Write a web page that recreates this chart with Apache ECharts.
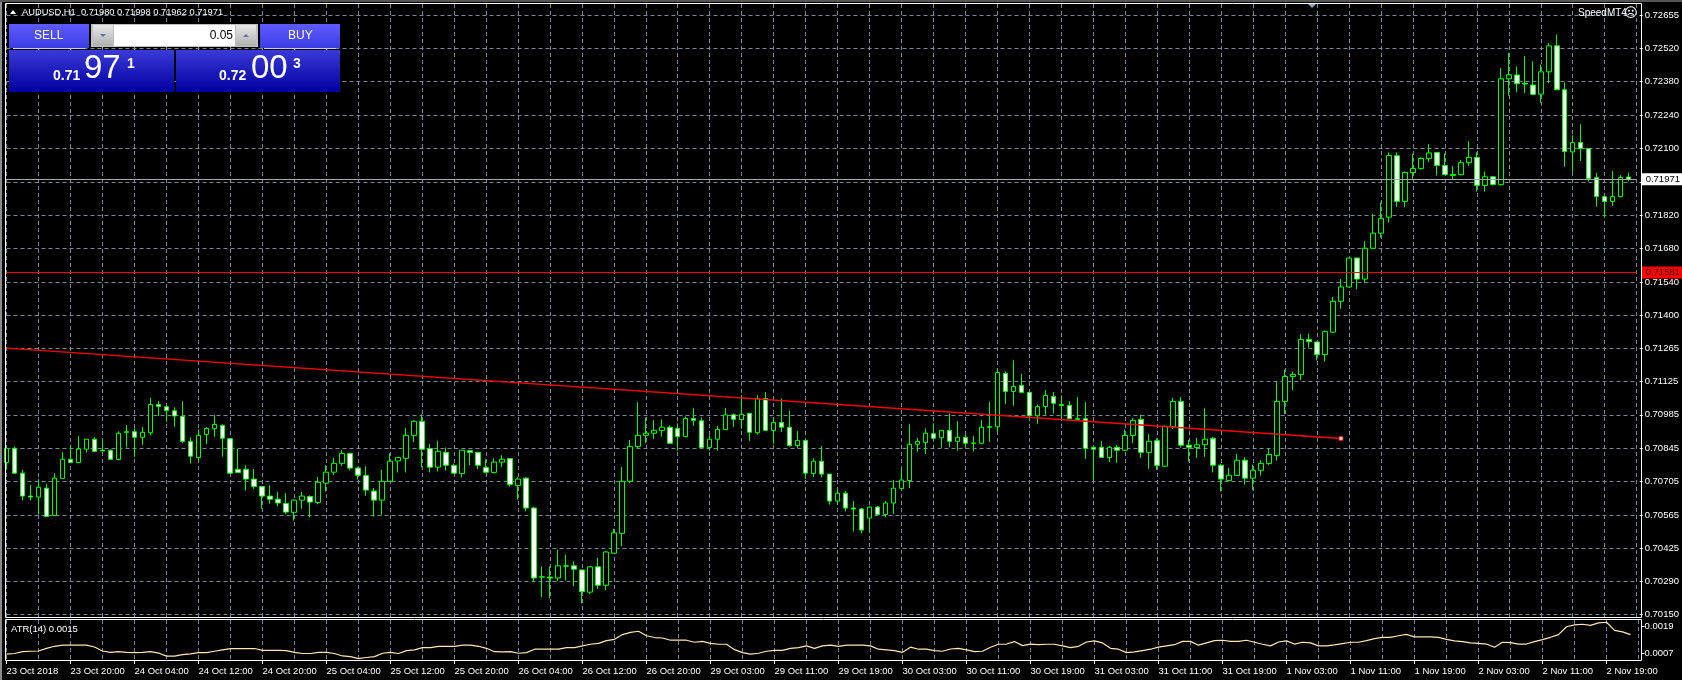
<!DOCTYPE html>
<html>
<head>
<meta charset="utf-8">
<title>AUDUSD,H1</title>
<script src="https://cdn.jsdelivr.net/npm/echarts@6/dist/echarts.min.js"></script>
<style>
  html, body { margin: 0; padding: 0; background: #000; }
  #chart { width: 1682px; height: 680px; }
</style>
</head>
<body>
<div id="chart"></div>
<script>
// H1 bars, 23 Oct 2018 12:00 to 2 Nov 2018 22:00
const opens = [
  0.70785,0.70845,0.70741,0.70645,0.70641,0.70678,0.70564,0.70719,0.70799,0.70785,
  0.70841,0.70883,0.70837,0.70837,0.70798,0.70914,0.70914,0.70891,0.70910,0.71028,
  0.71019,0.71002,0.70978,0.70873,0.70806,0.70903,0.70927,0.70941,0.70885,0.70757,
  0.70757,0.70716,0.70685,0.70645,0.70632,0.70614,0.70577,0.70628,0.70643,0.70618,
  0.70699,0.70745,0.70782,0.70823,0.70762,0.70731,0.70666,0.70628,0.70707,0.70792,
  0.70803,0.70899,0.70958,0.70844,0.70766,0.70828,0.70773,0.70739,0.70835,0.70828,
  0.70764,0.70744,0.70787,0.70802,0.70689,0.70720,0.70595,0.70307,0.70306,0.70302,
  0.70353,0.70353,0.70336,0.70243,0.70349,0.70272,0.70406,0.70489,0.70707,0.70852,
  0.70899,0.70908,0.70920,0.70933,0.70928,0.70894,0.70970,0.70960,0.70848,0.70883,
  0.70923,0.70985,0.70965,0.70991,0.70910,0.71053,0.70920,0.70953,0.70933,0.70856,
  0.70878,0.70739,0.70791,0.70737,0.70624,0.70657,0.70595,0.70591,0.70553,0.70599,
  0.70568,0.70616,0.70677,0.70710,0.70862,0.70870,0.70906,0.70889,0.70920,0.70874,
  0.70891,0.70867,0.70866,0.70935,0.70935,0.71158,0.71083,0.71108,0.71079,0.70981,
  0.71020,0.71062,0.71028,0.71024,0.70969,0.70969,0.70849,0.70849,0.70806,0.70849,
  0.70837,0.70899,0.70966,0.70828,0.70877,0.70770,0.70935,0.71041,0.70858,0.70848,
  0.70860,0.70887,0.70774,0.70710,0.70731,0.70795,0.70720,0.70753,0.70781,0.70814,
  0.71041,0.71145,0.71154,0.71300,0.71290,0.71237,0.71331,0.71460,0.71520,0.71641,
  0.71553,0.71682,0.71745,0.71812,0.72069,0.71878,0.71999,0.72015,0.72058,0.72083,
  0.72028,0.71991,0.71990,0.72040,0.72062,0.71945,0.71981,0.71948,0.72391,0.72407,
  0.72372,0.72365,0.72327,0.72420,0.72529,0.72345,0.72085,0.72124,0.72099,0.71977,
  0.71898,0.71878,0.71898,0.71980
];
const closes = [
  0.70845,0.70741,0.70645,0.70641,0.70682,0.70560,0.70720,0.70799,0.70785,0.70842,
  0.70883,0.70832,0.70834,0.70799,0.70908,0.70912,0.70891,0.70912,0.71028,0.71020,
  0.71003,0.70980,0.70873,0.70812,0.70899,0.70928,0.70945,0.70887,0.70741,0.70744,
  0.70716,0.70685,0.70645,0.70632,0.70616,0.70578,0.70628,0.70645,0.70620,0.70703,
  0.70745,0.70782,0.70823,0.70762,0.70732,0.70670,0.70628,0.70707,0.70791,0.70806,
  0.70899,0.70958,0.70841,0.70766,0.70832,0.70774,0.70741,0.70837,0.70828,0.70774,
  0.70745,0.70787,0.70799,0.70693,0.70716,0.70595,0.70302,0.70306,0.70302,0.70353,
  0.70352,0.70339,0.70245,0.70349,0.70272,0.70411,0.70491,0.70707,0.70853,0.70899,
  0.70908,0.70920,0.70933,0.70866,0.70894,0.70970,0.70962,0.70848,0.70883,0.70924,
  0.70985,0.70966,0.70987,0.70912,0.71053,0.70920,0.70953,0.70933,0.70856,0.70878,
  0.70741,0.70791,0.70737,0.70624,0.70657,0.70595,0.70591,0.70503,0.70599,0.70568,
  0.70616,0.70678,0.70712,0.70862,0.70874,0.70908,0.70887,0.70920,0.70874,0.70891,
  0.70866,0.70866,0.70933,0.70933,0.71162,0.71083,0.71104,0.71079,0.70981,0.71019,
  0.71066,0.71033,0.71024,0.70969,0.70966,0.70845,0.70841,0.70807,0.70849,0.70837,
  0.70899,0.70962,0.70828,0.70874,0.70773,0.70937,0.71041,0.70858,0.70849,0.70860,
  0.70883,0.70774,0.70716,0.70732,0.70795,0.70720,0.70753,0.70782,0.70819,0.71041,
  0.71145,0.71154,0.71300,0.71291,0.71237,0.71333,0.71460,0.71520,0.71641,0.71553,
  0.71682,0.71745,0.71807,0.72070,0.71878,0.71999,0.72016,0.72058,0.72081,0.72028,
  0.71991,0.71987,0.72040,0.72062,0.71945,0.71981,0.71949,0.72391,0.72408,0.72370,
  0.72369,0.72326,0.72420,0.72529,0.72345,0.72087,0.72124,0.72099,0.71974,0.71898,
  0.71878,0.71898,0.71978,0.71971
];
const highs = [
  0.70845,0.70852,0.70755,0.70691,0.70716,0.70696,0.70741,0.70828,0.70858,0.70896,
  0.70883,0.70891,0.70876,0.70839,0.70916,0.70942,0.70928,0.70934,0.71055,0.71042,
  0.71026,0.71016,0.71042,0.70891,0.70924,0.70934,0.70984,0.70945,0.70887,0.70842,
  0.70774,0.70759,0.70688,0.70691,0.70663,0.70657,0.70630,0.70662,0.70648,0.70725,
  0.70774,0.70805,0.70837,0.70827,0.70766,0.70770,0.70678,0.70755,0.70824,0.70807,
  0.70930,0.70963,0.70987,0.70863,0.70876,0.70848,0.70781,0.70837,0.70838,0.70830,
  0.70799,0.70803,0.70816,0.70803,0.70724,0.70724,0.70599,0.70350,0.70350,0.70420,
  0.70400,0.70372,0.70336,0.70352,0.70386,0.70415,0.70509,0.70766,0.70880,0.71038,
  0.70974,0.70963,0.70966,0.70941,0.70949,0.70978,0.71013,0.70974,0.70899,0.70938,
  0.71013,0.70991,0.71067,0.70994,0.71067,0.71080,0.70974,0.71053,0.71003,0.70917,
  0.70880,0.70803,0.70853,0.70737,0.70678,0.70667,0.70624,0.70595,0.70602,0.70603,
  0.70624,0.70712,0.70757,0.70945,0.70887,0.70928,0.70949,0.70921,0.70991,0.70959,
  0.70903,0.70896,0.70963,0.71040,0.71177,0.71166,0.71213,0.71155,0.71081,0.71028,
  0.71087,0.71080,0.71066,0.71042,0.71059,0.71038,0.70853,0.70876,0.70855,0.70858,
  0.70924,0.70971,0.70984,0.70905,0.70887,0.70940,0.71055,0.71059,0.70880,0.70888,
  0.71012,0.70892,0.70780,0.70762,0.70821,0.70807,0.70777,0.70795,0.70845,0.71122,
  0.71174,0.71166,0.71322,0.71325,0.71290,0.71338,0.71478,0.71553,0.71641,0.71641,
  0.71712,0.71824,0.71874,0.72083,0.72083,0.72003,0.72076,0.72063,0.72117,0.72085,
  0.72079,0.72024,0.72051,0.72130,0.72083,0.72003,0.71984,0.72437,0.72500,0.72443,
  0.72487,0.72464,0.72451,0.72541,0.72576,0.72376,0.72155,0.72201,0.72099,0.71997,
  0.71903,0.72005,0.71988,0.71998
];
const lows = [
  0.70764,0.70738,0.70627,0.70627,0.70568,0.70557,0.70563,0.70719,0.70785,0.70785,
  0.70827,0.70832,0.70832,0.70796,0.70794,0.70849,0.70809,0.70859,0.70898,0.70980,
  0.70956,0.70935,0.70866,0.70781,0.70789,0.70863,0.70894,0.70810,0.70739,0.70741,
  0.70668,0.70675,0.70592,0.70613,0.70602,0.70570,0.70542,0.70592,0.70556,0.70611,
  0.70664,0.70734,0.70771,0.70753,0.70714,0.70646,0.70560,0.70566,0.70706,0.70744,
  0.70744,0.70871,0.70766,0.70744,0.70748,0.70752,0.70741,0.70723,0.70775,0.70757,
  0.70741,0.70739,0.70767,0.70685,0.70630,0.70581,0.70285,0.70222,0.70218,0.70289,
  0.70292,0.70268,0.70196,0.70235,0.70257,0.70251,0.70406,0.70435,0.70698,0.70845,
  0.70866,0.70884,0.70894,0.70863,0.70835,0.70891,0.70940,0.70845,0.70835,0.70835,
  0.70921,0.70934,0.70927,0.70876,0.70902,0.70919,0.70864,0.70913,0.70852,0.70845,
  0.70717,0.70725,0.70723,0.70609,0.70613,0.70581,0.70497,0.70489,0.70493,0.70566,
  0.70556,0.70571,0.70674,0.70678,0.70831,0.70821,0.70883,0.70848,0.70849,0.70835,
  0.70849,0.70832,0.70864,0.70873,0.70913,0.71030,0.71023,0.71077,0.70966,0.70948,
  0.70985,0.70991,0.70970,0.70966,0.70963,0.70801,0.70713,0.70806,0.70788,0.70784,
  0.70835,0.70867,0.70806,0.70759,0.70755,0.70769,0.70926,0.70848,0.70789,0.70806,
  0.70809,0.70744,0.70664,0.70709,0.70730,0.70693,0.70671,0.70731,0.70775,0.70794,
  0.70988,0.71088,0.71130,0.71266,0.71213,0.71209,0.71328,0.71429,0.71520,0.71511,
  0.71536,0.71682,0.71727,0.71789,0.71856,0.71853,0.71972,0.72012,0.72044,0.71987,
  0.71987,0.71969,0.71987,0.72027,0.71919,0.71919,0.71945,0.71945,0.72320,0.72334,
  0.72332,0.72322,0.72290,0.72373,0.72345,0.72023,0.72002,0.72047,0.71962,0.71856,
  0.71814,0.71859,0.71895,0.71962
];
const atr = [
  0.00066,0.00069,0.00077,0.00079,0.00080,0.00092,0.00101,0.00106,0.00106,0.00106,
  0.00106,0.00098,0.00080,0.00074,0.00077,0.00074,0.00073,0.00074,0.00077,0.00071,
  0.00057,0.00057,0.00064,0.00067,0.00073,0.00073,0.00079,0.00085,0.00091,0.00091,
  0.00091,0.00091,0.00083,0.00083,0.00083,0.00082,0.00074,0.00069,0.00069,0.00074,
  0.00074,0.00069,0.00058,0.00055,0.00046,0.00051,0.00055,0.00070,0.00074,0.00069,
  0.00082,0.00085,0.00095,0.00095,0.00101,0.00101,0.00101,0.00106,0.00106,0.00101,
  0.00092,0.00077,0.00076,0.00077,0.00070,0.00073,0.00088,0.00088,0.00088,0.00088,
  0.00095,0.00095,0.00103,0.00110,0.00114,0.00126,0.00132,0.00153,0.00163,0.00168,
  0.00148,0.00140,0.00138,0.00128,0.00128,0.00128,0.00119,0.00123,0.00114,0.00110,
  0.00110,0.00086,0.00073,0.00066,0.00070,0.00079,0.00083,0.00083,0.00092,0.00095,
  0.00103,0.00092,0.00103,0.00106,0.00101,0.00106,0.00106,0.00106,0.00103,0.00088,
  0.00085,0.00082,0.00074,0.00097,0.00088,0.00088,0.00082,0.00079,0.00089,0.00092,
  0.00085,0.00077,0.00079,0.00097,0.00110,0.00111,0.00122,0.00104,0.00111,0.00108,
  0.00110,0.00110,0.00103,0.00095,0.00101,0.00120,0.00125,0.00116,0.00092,0.00088,
  0.00073,0.00076,0.00082,0.00088,0.00097,0.00103,0.00108,0.00123,0.00123,0.00106,
  0.00116,0.00126,0.00128,0.00123,0.00123,0.00128,0.00119,0.00110,0.00103,0.00120,
  0.00125,0.00111,0.00119,0.00116,0.00103,0.00103,0.00107,0.00113,0.00119,0.00119,
  0.00126,0.00135,0.00141,0.00141,0.00148,0.00154,0.00143,0.00143,0.00143,0.00141,
  0.00132,0.00125,0.00122,0.00116,0.00114,0.00111,0.00097,0.00119,0.00117,0.00111,
  0.00111,0.00122,0.00131,0.00141,0.00153,0.00188,0.00196,0.00199,0.00194,0.00205,
  0.00208,0.00172,0.00165,0.00153
];
const timeLabels = [
  '23 Oct 2018','23 Oct 20:00','24 Oct 04:00','24 Oct 12:00','24 Oct 20:00','25 Oct 04:00',
  '25 Oct 12:00','25 Oct 20:00','26 Oct 04:00','26 Oct 12:00','26 Oct 20:00','29 Oct 03:00',
  '29 Oct 11:00','29 Oct 19:00','30 Oct 03:00','30 Oct 11:00','30 Oct 19:00','31 Oct 03:00',
  '31 Oct 11:00','31 Oct 19:00','1 Nov 03:00','1 Nov 11:00','1 Nov 19:00','2 Nov 03:00',
  '2 Nov 11:00','2 Nov 19:00'
];
const priceTicks = [
  0.70150,0.70290,0.70425,0.70565,0.70705,0.70845,0.70985,0.71125,0.71265,0.71400,
  0.71540,0.71680,0.71820,0.71960,0.72100,0.72240,0.72380,0.72520,0.72655
];
const atrTicks = [0.0007, 0.0019];
const bidPrice = 0.71971;
const alertLevel = 0.71581;
const trendLine = [[0, 0.71264], [167, 0.70886]];

const GRID_COLOR = '#778899';
const FONT = '"Liberation Sans", Arial, sans-serif';

// one slot per bar, plus one empty slot so the last grid line fits
const categories = [];
for (let i = 0; i <= opens.length; i++) {
  categories.push(i % 8 === 0 && timeLabels[i / 8] ? timeLabels[i / 8] : '');
}
const candles = opens.map((o, i) => [o, closes[i], lows[i], highs[i]]);

const vGrid = {
  show: true,
  interval: (i) => i % 4 === 0,
  lineStyle: { color: GRID_COLOR, type: [4, 3], width: 1 }
};

function box(x, y, w, h, fill, stroke) {
  return { type: 'rect', z: 50, shape: { x, y, width: w, height: h },
           style: { fill: fill || 'transparent', stroke: stroke || null, lineWidth: 1 } };
}
function label(x, y, text, size, opts) {
  return { type: 'text', z: 60, x, y,
           style: Object.assign({ text, fill: '#fff', font: size + 'px ' + FONT,
                                  textAlign: 'left', textVerticalAlign: 'middle' }, opts || {}) };
}
function vGrad(top, bottom) {
  return { type: 'linear', x: 0, y: 0, x2: 0, y2: 1,
           colorStops: [{ offset: 0, color: top }, { offset: 1, color: bottom }] };
}

const chart = echarts.init(document.getElementById('chart'), null, { renderer: 'canvas' });
chart.setOption({
  backgroundColor: '#000',
  animation: false,
  grid: [
    { left: 6.5, top: 4, width: 1632, height: 613 },
    { left: 6.5, top: 620, width: 1632, height: 40 }
  ],
  xAxis: [
    { type: 'category', gridIndex: 0, data: categories, boundaryGap: false,
      axisLine: { show: false }, axisTick: { show: false }, axisLabel: { show: false },
      splitLine: vGrid },
    { type: 'category', gridIndex: 1, data: categories, boundaryGap: false,
      axisLine: { show: true, lineStyle: { color: '#fff' } },
      axisTick: { show: true, length: 4, interval: (i) => i % 8 === 0, lineStyle: { color: '#fff' } },
      axisLabel: { show: true, interval: (i) => i % 8 === 0, align: 'left', margin: 6,
                   color: '#fff', fontSize: 9.5, fontFamily: FONT, hideOverlap: false },
      splitLine: vGrid }
  ],
  yAxis: [
    { type: 'value', gridIndex: 0, position: 'right', offset: 3, min: 0.70139, max: 0.72704, scale: true,
      axisLine: { show: false },
      axisTick: { show: true, length: 3, customValues: priceTicks, lineStyle: { color: '#fff' } },
      axisLabel: { customValues: priceTicks.filter((v) => v !== 0.71960), margin: 5,
                   color: '#fff', fontSize: 9.5, fontFamily: FONT,
                   formatter: (v) => v.toFixed(5) },
      splitLine: { show: true, lineStyle: { color: GRID_COLOR, type: [4, 3], width: 1 } } },
    { type: 'value', gridIndex: 1, position: 'right', offset: 3, min: 0.0004, max: 0.00218, scale: true,
      axisLine: { show: false },
      axisTick: { show: true, length: 3, customValues: atrTicks, lineStyle: { color: '#fff' } },
      axisLabel: { customValues: atrTicks, margin: 3, color: '#fff', fontSize: 9.5, fontFamily: FONT,
                   formatter: (v) => v.toFixed(4) },
      splitLine: { show: false } }
  ],
  series: [
    { type: 'candlestick', xAxisIndex: 0, yAxisIndex: 0, data: candles, barWidth: 5,
      itemStyle: { color: '#000', color0: '#fff', borderColor: '#00ff00', borderColor0: '#00ff00',
                   borderColorDoji: '#00ff00', borderWidth: 1 } },
    { type: 'line', xAxisIndex: 0, yAxisIndex: 0, z: 5, data: trendLine, symbol: 'none',
      lineStyle: { color: '#ff0000', width: 1.3 },
      markLine: {
        silent: true, symbol: 'none', animation: false, precision: 5,
        data: [
          { yAxis: bidPrice, lineStyle: { color: '#a8a8a8', type: 'solid', width: 1 },
            label: { position: 'end', distance: 5, formatter: bidPrice.toFixed(5), color: '#000',
                     backgroundColor: '#fff', padding: [1, 4, 1, 4], fontSize: 9.5, fontFamily: FONT } },
          { yAxis: alertLevel, lineStyle: { color: '#ff0000', type: 'solid', width: 1 },
            label: { position: 'end', distance: 5, formatter: alertLevel.toFixed(5), color: '#400000',
                     backgroundColor: '#ff0000', padding: [1, 4, 1, 4], fontSize: 9.5, fontFamily: FONT } }
        ]
      } },
    { type: 'scatter', xAxisIndex: 0, yAxisIndex: 0, z: 6, data: [trendLine[1]], symbol: 'rect', symbolSize: 4,
      itemStyle: { color: '#fff', borderColor: '#ff0000', borderWidth: 1 } },
    { type: 'line', xAxisIndex: 1, yAxisIndex: 1, data: atr, symbol: 'none',
      lineStyle: { color: '#ffe4b5', width: 1.2 } }
  ],
  graphic: [
    // window edges and pane frames
    { type: 'rect', z: 1, shape: { x: 0, y: 0, width: 2, height: 680 }, style: { fill: '#8c8c8c' } },
    { type: 'rect', z: 1, shape: { x: 0, y: 0, width: 1682, height: 2 }, style: { fill: '#555' } },
    box(5.5, 3.5, 1636, 614, null, '#fff'),
    box(5.5, 619.5, 1636, 41, null, '#fff'),
    { type: 'polygon', z: 50, shape: { points: [[1308, 4], [1316, 4], [1312, 8]] }, style: { fill: '#8fa3b5' } },

    // header and ATR caption
    { type: 'polygon', z: 60, shape: { points: [[10, 14], [16, 14], [13, 10]] }, style: { fill: '#fff' } },
    label(22, 12, 'AUDUSD,H1  0.71980 0.71998 0.71962 0.71971', 9.3),
    label(11, 629, 'ATR(14) 0.0015', 9.5),
    label(1578, 13, 'SpeedMT4', 10),
    label(1624, 14, '\u2639', 13, { font: '13px "DejaVu Sans"' }),

    // one click trading panel
    box(9, 24, 80, 24, vGrad('#5c5cff', '#3c3ce4')),
    box(260, 24, 80, 24, vGrad('#5c5cff', '#3c3ce4')),
    box(13, 48, 72, 1, '#c8c8ff'),
    box(264, 48, 72, 1, '#c8c8ff'),
    box(9, 50, 165, 42, vGrad('#3a3ad8', '#0000a0')),
    box(176, 50, 164, 42, vGrad('#3a3ad8', '#0000a0')),
    box(91, 24, 167, 23, '#c0c0c0'),
    box(114, 25, 121, 21, '#fff'),
    box(93, 25, 20, 21, vGrad('#e8e8e8', '#b0b0b0')),
    box(236, 25, 20, 21, vGrad('#e8e8e8', '#b0b0b0')),
    { type: 'polygon', z: 60, shape: { points: [[100, 34], [106, 34], [103, 37]] }, style: { fill: '#6070b0' } },
    { type: 'polygon', z: 60, shape: { points: [[243, 37], [249, 37], [246, 34]] }, style: { fill: '#6070b0' } },
    label(34, 36, 'SELL', 12),
    label(288, 36, 'BUY', 12),
    label(233, 36, '0.05', 12, { fill: '#000', textAlign: 'right' }),
    label(53, 76, '0.71', 14, { font: 'bold 14px ' + FONT }),
    label(84, 69, '97', 33),
    label(127, 64, '1', 14, { font: 'bold 14px ' + FONT }),
    label(219, 76, '0.72', 14, { font: 'bold 14px ' + FONT }),
    label(251, 69, '00', 33),
    label(293, 64, '3', 14, { font: 'bold 14px ' + FONT })
  ]
});
</script>
</body>
</html>
